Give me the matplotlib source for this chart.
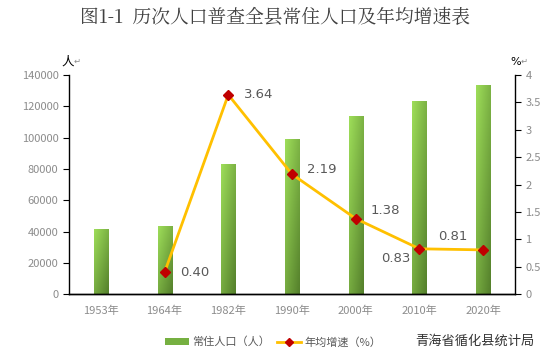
import numpy as np
import matplotlib.pyplot as plt
from matplotlib.patches import Patch
from matplotlib.lines import Line2D

plt.rcParams['font.family'] = ['Noto Sans CJK SC', 'DejaVu Sans']

years = ['1953年', '1964年', '1982年', '1990年', '2000年', '2010年', '2020年']
population = [41700, 43800, 83200, 98900, 113800, 123400, 133600]
growth = [None, 0.40, 3.64, 2.19, 1.38, 0.83, 0.81]
growth_labels = ['', '0.40', '3.64', '2.19', '1.38', '0.83', '0.81']

gray = '#8c8c8c'
label_gray = '#595959'

fig = plt.figure(figsize=(5.5, 3.61), dpi=100)
ax = fig.add_axes([69 / 550, 1 - 294.3 / 361, (515 - 69) / 550, (294.3 - 75) / 361])
ax2 = ax.twinx()

x = np.arange(len(years))
bars = ax.bar(x, population, width=0.22, color='none', edgecolor='none', zorder=2)

# gradient fill: light green top-left, darker green bottom-right
light = np.array([0.62, 0.87, 0.35])
dark = np.array([0.33, 0.50, 0.17])
ny, nx = 100, 20
yy = np.linspace(0, 1, ny)[:, None]
xx = np.linspace(0, 1, nx)[None, :]
t = np.clip(0.55 * yy + 0.45 * xx, 0, 1)
grad = light[None, None, :] * (1 - t[..., None]) + dark[None, None, :] * t[..., None]
for b in bars:
    x0, w, h = b.get_x(), b.get_width(), b.get_height()
    im = ax.imshow(grad, extent=[x0, x0 + w, 0, h], origin='upper',
                   aspect='auto', zorder=2)
    im.set_clip_path(b)

ax.set_xlim(-0.5, len(years) - 0.5)
ax.set_ylim(0, 140000)
ax.set_yticks(np.arange(0, 140001, 20000))
ax.set_xticks(x)
ax.set_xticklabels(years)

gx = [i for i, g in enumerate(growth) if g is not None]
gy = [g for g in growth if g is not None]
ax2.plot(gx, gy, color='#FFC000', lw=2, marker='D', markersize=5.5,
         markerfacecolor='#C00000', markeredgecolor='#C00000', zorder=3)
ax2.set_ylim(0, 4)
ax2.set_yticks(np.arange(0, 4.01, 0.5))
ax2.set_yticklabels(['0', '0.5', '1', '1.5', '2', '2.5', '3', '3.5', '4'])

# label offsets in points
offsets = {1: (11, 0), 2: (11, 0), 3: (11, 3.6), 4: (11, 6), 5: (-6.5, -7), 6: (-11.5, 9.5)}
for i, lab in enumerate(growth_labels):
    if not lab:
        continue
    dx, dy = offsets[i]
    ha = 'left' if dx > 0 else 'right'
    ax2.annotate(lab, (x[i], growth[i]), xytext=(dx, dy), textcoords='offset points',
                 ha=ha, va='center', fontsize=9.5, color=label_gray,
                 family=['DejaVu Sans'])

for a in (ax, ax2):
    a.spines['top'].set_visible(False)
    for s in a.spines.values():
        s.set_color('black')
        s.set_linewidth(1)
    a.tick_params(axis='y', colors='black', labelcolor=gray, labelsize=8, length=4)
ax.tick_params(axis='x', length=0, labelcolor=gray, labelsize=8, pad=8)
ax.spines['right'].set_visible(False)
ax2.spines['left'].set_visible(False)

fig.text(0.5, 1 - 17 / 361, '图1-1  历次人口普查全县常住人口及年均增速表', ha='center', va='center',
         fontsize=13.5, color='#404040', family=['Noto Serif CJK SC', 'Noto Sans CJK SC', 'DejaVu Sans'])
fig.text(68 / 550, 1 - 62 / 361, '人', ha='center', va='center', fontsize=9, color='black')
fig.text(77 / 550, 1 - 61 / 361, '↵', ha='center', va='center', fontsize=6, color=gray,
         family=['DejaVu Sans'])
fig.text(516 / 550, 1 - 62 / 361, '%', ha='center', va='center', fontsize=8, color='black',
         family=['DejaVu Sans'])
fig.text(524 / 550, 1 - 61 / 361, '↵', ha='center', va='center', fontsize=6, color=gray,
         family=['DejaVu Sans'])

handles = [Patch(facecolor='#76B041', edgecolor='none'),
           Line2D([0], [0], color='#FFC000', lw=2, marker='D', markersize=4,
                  markerfacecolor='#C00000', markeredgecolor='#C00000')]
leg = fig.legend(handles, ['常住人口（人）', '年均增速（%）'], loc='center',
                 bbox_to_anchor=(273 / 550, 1 - 342 / 361), ncol=2, frameon=False,
                 fontsize=8, handlelength=2.2, handleheight=0.6, columnspacing=0.6,
                 handletextpad=0.3)
for tx in leg.get_texts():
    tx.set_color(label_gray)

fig.text(475 / 550, 1 - 341 / 361, '青海省循化县统计局', ha='center', va='center',
         fontsize=9.5, color='#333333')

fig.savefig('out.png', dpi=100)
